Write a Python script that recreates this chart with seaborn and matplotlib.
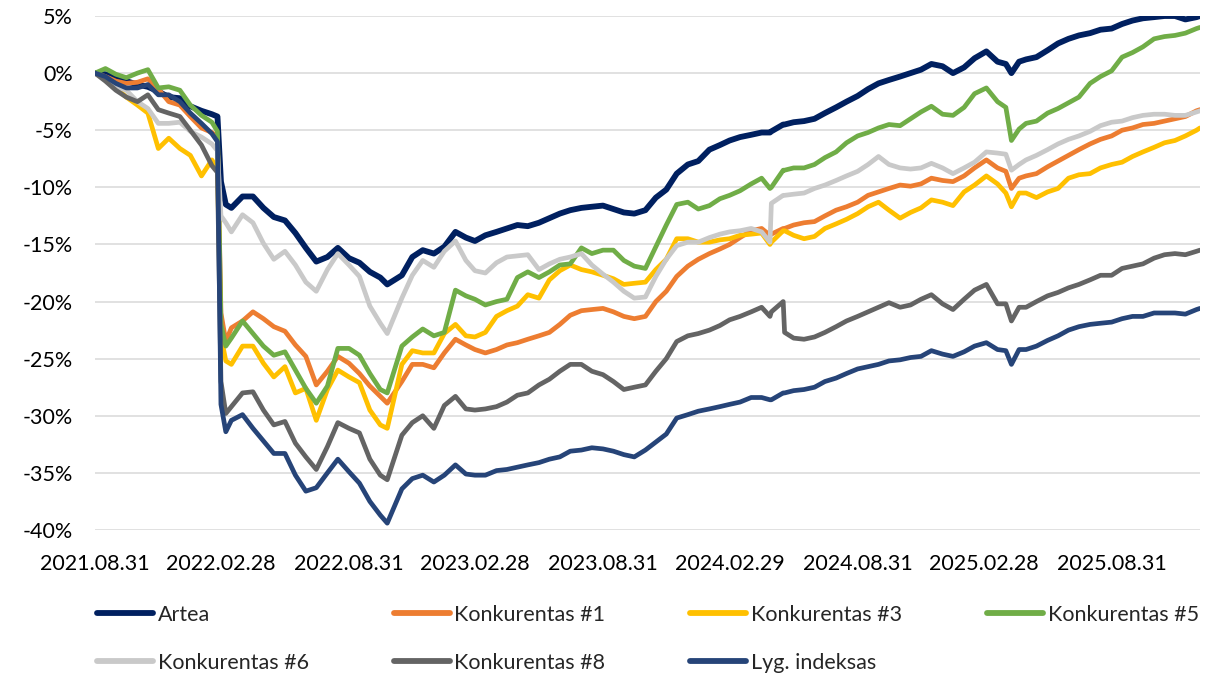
import numpy as np
import pandas as pd
import matplotlib
matplotlib.use("Agg")
import matplotlib.pyplot as plt
from matplotlib.lines import Line2D
import seaborn as sns

# ---------------- data (values in %) ----------------
dates = ["2021-08-31","2021-09-15","2021-09-30","2021-10-15","2021-10-31","2021-11-15","2021-11-30","2021-12-15","2021-12-31","2022-01-15",
         "2022-01-31","2022-02-15","2022-02-23","2022-02-28","2022-03-07","2022-03-15","2022-03-31","2022-04-15","2022-04-30","2022-05-15",
         "2022-05-31","2022-06-15","2022-06-30","2022-07-15","2022-07-31","2022-08-15","2022-08-31","2022-09-15","2022-09-30","2022-10-15",
         "2022-10-25","2022-11-15","2022-11-30","2022-12-15","2022-12-31","2023-01-15","2023-01-31","2023-02-15","2023-02-28","2023-03-15",
         "2023-03-31","2023-04-15","2023-04-30","2023-05-15","2023-05-31","2023-06-15","2023-06-30","2023-07-15","2023-07-31","2023-08-15",
         "2023-08-31","2023-09-15","2023-09-30","2023-10-15","2023-10-31","2023-11-15","2023-11-30","2023-12-15","2023-12-31","2024-01-15",
         "2024-01-31","2024-02-15","2024-02-29","2024-03-15","2024-03-31","2024-04-15","2024-04-27","2024-04-29","2024-05-16","2024-05-18",
         "2024-05-31","2024-06-15","2024-06-30","2024-07-15","2024-07-31","2024-08-15","2024-08-31","2024-09-15","2024-09-30","2024-10-15",
         "2024-10-31","2024-11-15","2024-11-30","2024-12-15","2024-12-31","2025-01-15","2025-01-31","2025-02-15","2025-03-04","2025-03-20",
         "2025-04-01","2025-04-09","2025-04-20","2025-04-30","2025-05-15","2025-05-31","2025-06-15","2025-06-30","2025-07-15","2025-07-31",
         "2025-08-15","2025-08-31","2025-09-15","2025-09-30","2025-10-15","2025-10-31","2025-11-15","2025-11-30","2025-12-15","2025-12-31",
         "2026-01-05"]

artea = [0.0, -0.1, -0.4, -0.7, -1.0, -1.2, -1.6, -2.1, -2.2, -2.9,
         -3.3, -3.6, -3.8, -9.5, -11.5, -11.8, -10.8, -10.8, -11.8, -12.6,
         -12.9, -14.0, -15.3, -16.5, -16.1, -15.3, -16.2, -16.6, -17.4, -17.9,
         -18.5, -17.7, -16.1, -15.5, -15.8, -15.2, -13.9, -14.4, -14.7, -14.2,
         -13.9, -13.6, -13.3, -13.4, -13.1, -12.7, -12.3, -12.0, -11.8, -11.7,
         -11.6, -11.9, -12.2, -12.3, -12.0, -10.9, -10.2, -8.8, -8.0, -7.7,
         -6.7, -6.3, -5.9, -5.6, -5.4, -5.2, -5.2, -5.1, -4.5, -4.5,
         -4.3, -4.2, -4.0, -3.5, -3.0, -2.5, -2.0, -1.4, -0.9, -0.6,
         -0.3, 0.0, 0.3, 0.8, 0.6, 0.0, 0.5, 1.3, 1.9, 1.0,
         0.8, 0.0, 1.0, 1.2, 1.4, 2.0, 2.6, 3.0, 3.3, 3.5,
         3.8, 3.9, 4.3, 4.6, 4.8, 4.9, 5.0, 5.0, 4.7, 4.9, 5.0]

konk1 = [0.0, -0.3, -0.7, -0.9, -0.8, -0.5, -1.4, -2.5, -2.8, -3.8,
         -4.8, -5.2, -5.6, -21.0, -23.5, -22.3, -21.7, -20.9, -21.5, -22.2,
         -22.6, -23.8, -24.8, -27.3, -26.1, -24.8, -25.4, -26.3, -27.4, -28.3,
         -28.9, -27.0, -25.5, -25.5, -25.8, -24.5, -23.3, -23.8, -24.2, -24.5,
         -24.2, -23.8, -23.6, -23.3, -23.0, -22.7, -22.0, -21.2, -20.8, -20.7,
         -20.6, -20.9, -21.3, -21.5, -21.3, -20.0, -19.1, -17.8, -16.9, -16.3,
         -15.8, -15.4, -15.0, -14.4, -13.8, -13.6, -14.2, -14.1, -13.6, -13.6,
         -13.3, -13.1, -13.0, -12.5, -12.0, -11.7, -11.3, -10.7, -10.4, -10.1,
         -9.8, -9.9, -9.7, -9.2, -9.4, -9.5, -9.0, -8.3, -7.6, -8.3,
         -8.6, -10.1, -9.2, -9.0, -8.8, -8.2, -7.7, -7.2, -6.7, -6.2,
         -5.8, -5.5, -5.0, -4.8, -4.5, -4.4, -4.2, -4.0, -3.8, -3.3, -3.2]

konk3 = [0.0, -0.4, -1.3, -2.1, -2.8, -3.5, -6.6, -5.7, -6.6, -7.2,
         -9.0, -7.6, -8.4, -23.0, -25.2, -25.5, -23.9, -23.9, -25.4, -26.6,
         -25.7, -28.0, -27.6, -30.4, -27.7, -26.0, -26.6, -27.1, -29.5, -30.8,
         -31.1, -25.5, -24.3, -24.5, -24.5, -22.8, -22.0, -23.0, -23.1, -22.7,
         -21.3, -20.8, -20.4, -19.4, -19.7, -18.1, -17.3, -16.8, -17.2, -17.4,
         -17.7, -18.0, -18.5, -18.4, -18.3, -17.2, -16.3, -14.5, -14.5, -14.8,
         -14.8, -14.6, -14.5, -14.2, -14.1, -14.0, -15.0, -14.8, -13.8, -13.8,
         -14.2, -14.5, -14.3, -13.6, -13.2, -12.8, -12.3, -11.7, -11.3, -12.0,
         -12.7, -12.2, -11.8, -11.1, -11.3, -11.6, -10.4, -9.8, -9.0, -9.7,
         -10.5, -11.7, -10.5, -10.5, -10.9, -10.4, -10.1, -9.2, -8.9, -8.8,
         -8.3, -8.0, -7.8, -7.3, -6.9, -6.5, -6.1, -5.9, -5.5, -5.0, -4.8]

konk5 = [0.0, 0.4, -0.1, -0.4, 0.0, 0.3, -1.3, -1.2, -1.5, -2.8,
         -3.7, -4.3, -5.1, -22.0, -23.9, -23.2, -21.7, -22.8, -23.9, -24.7,
         -24.4, -26.0, -27.6, -28.9, -27.4, -24.1, -24.1, -24.7, -26.3, -27.7,
         -28.0, -23.9, -23.1, -22.4, -23.0, -22.7, -19.0, -19.5, -19.8, -20.3,
         -20.0, -19.8, -17.9, -17.4, -17.9, -17.4, -16.8, -16.7, -15.3, -15.8,
         -15.5, -15.5, -16.4, -16.9, -17.1, -15.2, -13.3, -11.5, -11.3, -11.9,
         -11.6, -11.0, -10.7, -10.3, -9.7, -9.2, -10.1, -10.0, -8.5, -8.5,
         -8.3, -8.3, -8.0, -7.4, -6.9, -6.1, -5.5, -5.2, -4.8, -4.5,
         -4.6, -4.0, -3.4, -2.9, -3.6, -3.7, -3.0, -1.8, -1.3, -2.5,
         -3.0, -5.9, -4.9, -4.4, -4.2, -3.5, -3.1, -2.6, -2.1, -0.9,
         -0.3, 0.2, 1.4, 1.8, 2.3, 3.0, 3.2, 3.3, 3.5, 3.9, 4.0]

konk6 = [0.0, -0.4, -1.2, -1.5, -2.5, -3.1, -4.4, -4.4, -4.3, -5.1,
         -5.6, -6.2, -6.8, -12.5, -13.1, -13.9, -12.4, -13.1, -14.9, -16.3,
         -15.6, -16.8, -18.3, -19.1, -17.2, -15.8, -16.8, -17.8, -20.4, -21.9,
         -22.8, -19.7, -17.7, -16.4, -17.0, -15.6, -14.7, -16.4, -17.3, -17.5,
         -16.6, -16.1, -16.0, -15.9, -17.2, -16.7, -16.3, -16.1, -15.8, -16.8,
         -17.6, -18.3, -19.1, -19.7, -19.6, -17.8, -16.3, -15.1, -14.8, -14.8,
         -14.4, -14.1, -13.9, -13.8, -13.6, -13.9, -14.8, -11.4, -10.7, -10.7,
         -10.6, -10.5, -10.1, -9.8, -9.4, -9.0, -8.6, -8.0, -7.3, -8.0,
         -8.3, -8.4, -8.3, -7.9, -8.3, -8.8, -8.3, -7.8, -6.9, -7.0,
         -7.1, -8.5, -8.0, -7.6, -7.2, -6.7, -6.2, -5.8, -5.5, -5.1,
         -4.6, -4.3, -4.2, -3.9, -3.7, -3.6, -3.6, -3.7, -3.7, -3.4, -3.3]

konk8 = [0.0, -0.7, -1.5, -2.1, -2.5, -1.9, -3.2, -3.5, -3.8, -5.0,
         -6.3, -8.1, -8.7, -27.0, -29.8, -29.2, -28.0, -27.9, -29.5, -30.8,
         -30.5, -32.4, -33.6, -34.7, -32.7, -30.6, -31.1, -31.5, -33.8, -35.2,
         -35.6, -31.7, -30.6, -30.0, -31.1, -29.1, -28.3, -29.4, -29.5, -29.4,
         -29.2, -28.8, -28.2, -28.0, -27.3, -26.8, -26.1, -25.5, -25.5, -26.1,
         -26.4, -27.0, -27.7, -27.5, -27.3, -26.1, -25.0, -23.5, -23.0, -22.8,
         -22.5, -22.1, -21.6, -21.3, -20.9, -20.5, -21.3, -20.9, -20.0, -22.7,
         -23.2, -23.3, -23.1, -22.7, -22.2, -21.7, -21.3, -20.9, -20.5, -20.1,
         -20.5, -20.3, -19.8, -19.4, -20.2, -20.7, -19.8, -19.0, -18.5, -20.2,
         -20.2, -21.7, -20.5, -20.5, -20.0, -19.5, -19.2, -18.8, -18.5, -18.1,
         -17.7, -17.7, -17.1, -16.9, -16.7, -16.2, -15.9, -15.8, -15.9, -15.6, -15.5]

index = [0.0, -0.3, -0.9, -1.3, -1.3, -1.0, -1.9, -1.9, -2.5, -3.5,
         -4.4, -5.3, -6.0, -29.0, -31.4, -30.4, -29.9, -31.1, -32.2, -33.3,
         -33.3, -35.2, -36.6, -36.3, -35.0, -33.8, -34.9, -35.9, -37.5, -38.7,
         -39.4, -36.4, -35.5, -35.2, -35.8, -35.2, -34.3, -35.1, -35.2, -35.2,
         -34.8, -34.7, -34.5, -34.3, -34.1, -33.8, -33.6, -33.1, -33.0, -32.8,
         -32.9, -33.1, -33.4, -33.6, -33.0, -32.3, -31.6, -30.2, -29.9, -29.6,
         -29.4, -29.2, -29.0, -28.8, -28.4, -28.4, -28.6, -28.6, -28.0, -28.0,
         -27.8, -27.7, -27.5, -27.0, -26.7, -26.3, -25.9, -25.7, -25.5, -25.2,
         -25.1, -24.9, -24.8, -24.3, -24.6, -24.8, -24.4, -23.9, -23.6, -24.2,
         -24.3, -25.5, -24.2, -24.2, -23.9, -23.4, -23.0, -22.5, -22.2, -22.0,
         -21.9, -21.8, -21.5, -21.3, -21.3, -21.0, -21.0, -21.0, -21.1, -20.7, -20.6]

series_names = ["Artea", "Konkurentas #1", "Konkurentas #3", "Konkurentas #5",
                "Konkurentas #6", "Konkurentas #8", "Lyg. indeksas"]
series_values = [artea, konk1, konk3, konk5, konk6, konk8, index]
series_colors = ["#002060", "#ED7D31", "#FFC000", "#70AD47", "#C9C9C9", "#646464", "#264478"]
series_widths = [4.2, 3.4, 3.4, 3.4, 3.4, 3.4, 3.4]

tick_dates = ["2021-08-31", "2022-02-28", "2022-08-31", "2023-02-28", "2023-08-31",
              "2024-02-29", "2024-08-31", "2025-02-28", "2025-08-31"]
y_ticks = [5, 0, -5, -10, -15, -20, -25, -30, -35, -40]

# ---------------- plotting ----------------
sns.set_style("white")
plt.rcParams["font.family"] = ["Lato", "DejaVu Sans"]

x = pd.to_datetime(dates)
df = pd.DataFrame({"date": np.tile(x, len(series_names)),
                   "value": np.concatenate(series_values),
                   "series": np.repeat(series_names, len(x))})

fig = plt.figure(figsize=(12.25, 6.77), dpi=100)
W, H = 1225, 677
ax = fig.add_axes([95 / W, 1 - 530 / H, (1200 - 95) / W, (530 - 16) / H])

for name, col, lw in zip(series_names, series_colors, series_widths):
    sub = df[df["series"] == name]
    sns.lineplot(data=sub, x="date", y="value", ax=ax, color=col, linewidth=lw,
                 solid_joinstyle="round", solid_capstyle="round", legend=False)

ax.set_xlim(x.min(), x.max())
ax.set_ylim(-40, 5)
ax.set_yticks(y_ticks)
ax.set_yticklabels([f"{v}%" for v in y_ticks])
td = pd.to_datetime(tick_dates)
ax.set_xticks(td)
ax.set_xticklabels([d.strftime("%Y.%m.%d") for d in td])
ax.set_xlabel("")
ax.set_ylabel("")
for s in ax.spines.values():
    s.set_visible(False)
ax.yaxis.grid(True, color="#D9D9D9", linewidth=1.1)
ax.xaxis.grid(False)
ax.set_axisbelow(True)
ax.tick_params(axis="both", length=0, labelsize=15.5, colors="#000000")
ax.tick_params(axis="y", pad=16)
ax.tick_params(axis="x", pad=17.5)

handles = [Line2D([0], [0], color=c, lw=4.2, solid_capstyle="round") for c in series_colors]
order = [0, 4, 1, 5, 2, 6, 3]
fig.legend([handles[i] for i in order], [series_names[i] for i in order],
           ncol=4, loc="upper left", bbox_to_anchor=(97 / W, 1 - 605 / H),
           frameon=False, fontsize=15.5, handlelength=2.6, handletextpad=0.22,
           columnspacing=3.95, labelspacing=1.28, borderpad=0, borderaxespad=0)

fig.savefig("out.png", dpi=100)
